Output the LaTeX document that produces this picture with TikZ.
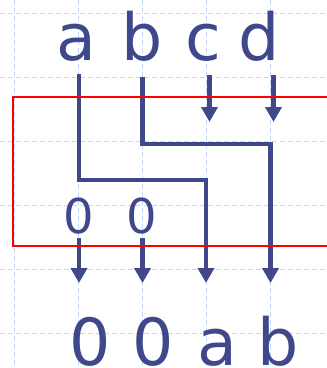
\documentclass[tikz,border=0pt]{standalone}
\usepackage{fontspec}
\setmainfont{DejaVu Sans}
\usetikzlibrary{arrows.meta}
\definecolor{wire}{RGB}{64,72,140}
\definecolor{gridblue}{RGB}{200,214,250}
\definecolor{framered}{RGB}{255,0,0}
\tikzset{
  gridline/.style={draw=gridblue, line width=1pt, dash pattern=on 5pt off 3pt},
  frame/.style={draw=framered, line width=2pt},
  wireline/.style={draw=wire, line width=4.8pt},
  wirearrow/.style={wireline, -{Triangle[width=16pt,length=15pt]}},
  biglabel/.style={text=wire, inner sep=0pt, anchor=base, font=\fontsize{65}{65}\selectfont},
  smalllabel/.style={text=wire, inner sep=0pt, anchor=base, font=\fontsize{48}{48}\selectfont}
}
\begin{document}
\begin{tikzpicture}[x=1pt, y=-1pt]
\useasboundingbox (0,0) rectangle (327,368);
\fill[white] (0,0) rectangle (327,368);

% background grid
\foreach \gx in {14.5,79,143,207,271}
  \draw[gridline] (\gx,0) -- (\gx,368);
\foreach \gy in {13,77,141,205,269,333}
  \draw[gridline] (0,\gy) -- (327,\gy);

% input labels
\node[biglabel] (ia) at (76,60) {a};
\node[biglabel] (ib) at (142.5,60) {b};
\node[biglabel] (ic) at (203,60) {c};
\node[biglabel] (id) at (259,60) {d};

% constant zeros fed in inside the box
\node[smalllabel] (za) at (78.5,233) {0};
\node[smalllabel] (zb) at (141.5,233) {0};

% output labels
\node[biglabel] (oa) at (90.5,365) {0};
\node[biglabel] (ob) at (153,365) {0};
\node[biglabel] (oc) at (217,365) {a};
\node[biglabel] (od) at (278,365) {b};

% wire end points
\coordinate (a0) at (79,74);
\coordinate (a1) at (79,180);
\coordinate (a2) at (206,180);
\coordinate (a3) at (206,283);
\coordinate (b0) at (142.5,77);
\coordinate (b1) at (142.5,144);
\coordinate (b2) at (270.5,144);
\coordinate (b3) at (270.5,283);
\coordinate (c0) at (209.5,75);
\coordinate (c1) at (209.5,122);
\coordinate (d0) at (273.5,75);
\coordinate (d1) at (273.5,122);
\coordinate (z0) at (79,238);
\coordinate (z1) at (79,283);
\coordinate (y0) at (142.5,238);
\coordinate (y1) at (142.5,283);

% wires
\draw[wirearrow] (a0) -- (a1) -- (a2) -- (a3);
\draw[wirearrow] (b0) -- (b1) -- (b2) -- (b3);
\draw[wirearrow] (c0) -- (c1);
\draw[wirearrow] (d0) -- (d1);
\draw[wirearrow] (z0) -- (z1);
\draw[wirearrow] (y0) -- (y1);

% shifter box, open on the right
\coordinate (r1) at (12.8,97);
\coordinate (r2) at (340,246);
\draw[frame] (r1) rectangle (r2);
\end{tikzpicture}
\end{document}
